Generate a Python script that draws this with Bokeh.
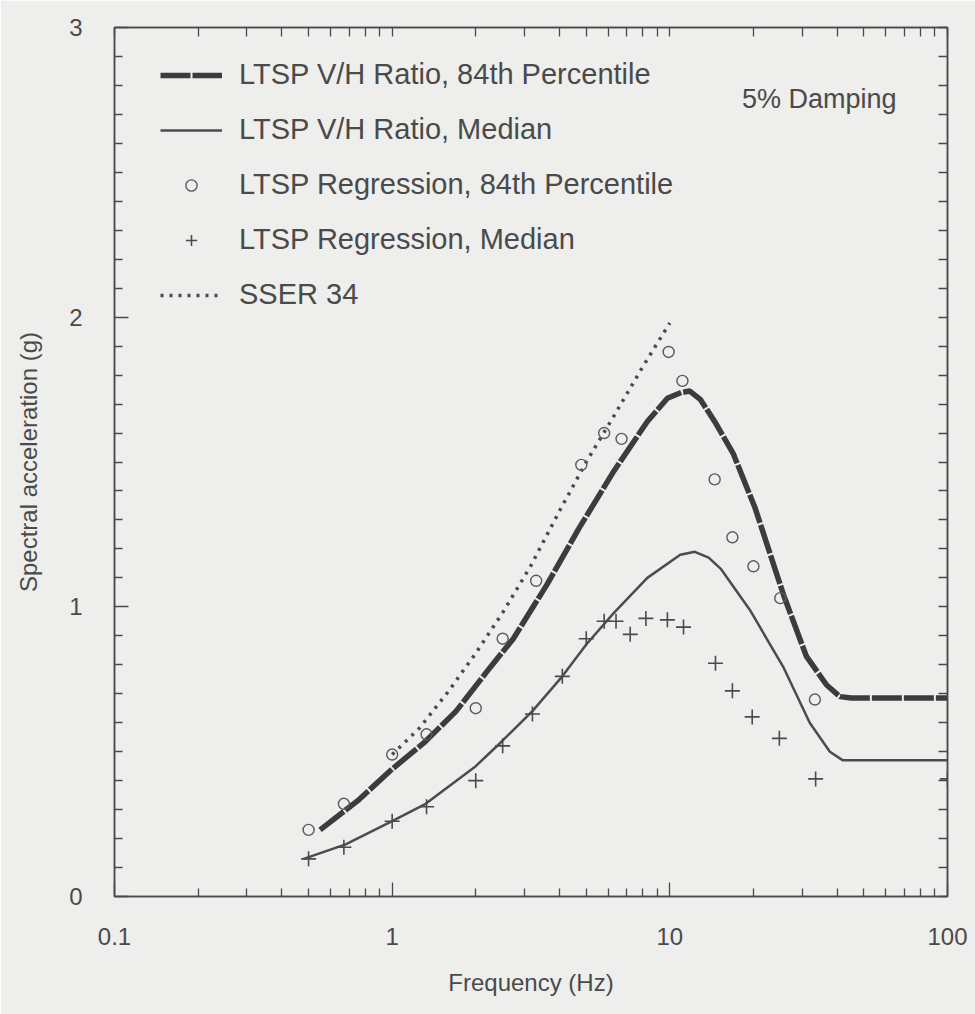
from bokeh.plotting import figure
from bokeh.models import (FixedTicker, LinearAxis, LogAxis, Legend, LegendItem, Label,
                          CustomJSTickFormatter)
from bokeh.embed import file_html
from bokeh.resources import INLINE

# ---- data ----
v84_f = [0.55, 0.75, 1.0, 1.3, 1.7, 2.25, 2.73, 3.6, 4.7, 6.3, 8.3, 9.8, 11.0, 11.8,
         12.9, 14.5, 16.9, 20.3, 25.7, 31.0, 36.7, 41.0, 45.0, 100.0]
v84_y = [0.23, 0.33, 0.44, 0.53, 0.64, 0.79, 0.89, 1.075, 1.27, 1.47, 1.64, 1.72, 1.74, 1.745,
         1.715, 1.64, 1.53, 1.34, 1.04, 0.83, 0.73, 0.69, 0.685, 0.685]

med_f = [0.48, 0.68, 1.0, 1.32, 2.0, 2.45, 3.2, 4.1, 5.0, 6.3, 8.3, 10.9, 12.3, 13.8,
         15.3, 19.4, 25.7, 31.9, 37.7, 42.0, 100.0]
med_y = [0.13, 0.18, 0.26, 0.32, 0.45, 0.53, 0.64, 0.76, 0.87, 0.98, 1.10, 1.18, 1.19, 1.17,
         1.13, 0.99, 0.79, 0.60, 0.50, 0.47, 0.47]

reg84_f = [0.5, 0.67, 1.0, 1.33, 2.0, 2.5, 3.3, 4.8, 5.8, 6.7, 9.9, 11.1, 14.5, 16.8, 20.0, 25.0, 33.3]
reg84_y = [0.23, 0.32, 0.49, 0.56, 0.65, 0.89, 1.09, 1.49, 1.60, 1.58, 1.88, 1.78, 1.44, 1.24, 1.14, 1.03, 0.68]

regmed_f = [0.5, 0.67, 1.0, 1.33, 2.0, 2.5, 3.2, 4.1, 5.0, 5.8, 6.4, 7.2, 8.2, 9.8, 11.2,
            14.6, 16.8, 19.8, 24.8, 33.5, 100.0]
regmed_y = [0.13, 0.17, 0.26, 0.31, 0.40, 0.52, 0.63, 0.76, 0.89, 0.95, 0.95, 0.905, 0.96, 0.955, 0.93,
            0.805, 0.71, 0.62, 0.546, 0.406, 0.406]

sser_f = [1.0, 1.25, 1.6, 2.0, 2.5, 3.15, 4.0, 5.0, 6.3, 8.0, 10.0]
sser_y = [0.49, 0.58, 0.71, 0.84, 0.98, 1.14, 1.33, 1.50, 1.66, 1.83, 1.98]

x_major = [0.1, 1, 10, 100]
y_major = [0, 1, 2, 3]

FONT = "Liberation Sans"
INK = "#4a4a4a"
BG = "#eeeeec"

p = figure(width=975, height=1014, x_axis_type="log", x_range=(0.1, 100), y_range=(0, 3),
           output_backend="svg", toolbar_location=None,
           min_border_left=114, min_border_right=28, min_border_top=27, min_border_bottom=118,
           background_fill_color=BG, border_fill_color=BG)
p.grid.visible = False
p.outline_line_color = INK
p.outline_line_width = 1.5

minor_x = [m * d for d in (0.1, 1, 10) for m in range(2, 10)]
minor_y = [round(i * 0.1, 1) for i in range(31) if i % 10 != 0]

# bottom / left axes
p.xaxis.ticker = FixedTicker(ticks=x_major, minor_ticks=minor_x)
p.xaxis.formatter = CustomJSTickFormatter(code="return String(tick)")
p.yaxis.ticker = FixedTicker(ticks=y_major, minor_ticks=minor_y)
for ax in (p.xaxis[0], p.yaxis[0]):
    ax.major_tick_in = 14
    ax.major_tick_out = 0
    ax.minor_tick_in = 8
    ax.minor_tick_out = 0
    ax.axis_line_color = INK
    ax.axis_line_width = 1.5
    ax.major_tick_line_color = INK
    ax.minor_tick_line_color = INK
    ax.major_tick_line_width = 1.3
    ax.minor_tick_line_width = 1.3
    ax.major_label_text_font = FONT
    ax.major_label_text_font_size = "24px"
    ax.major_label_text_color = INK
    ax.axis_label_text_font = FONT
    ax.axis_label_text_font_size = "24px"
    ax.axis_label_text_font_style = "normal"
    ax.axis_label_text_color = INK

p.xaxis.axis_label = "Frequency (Hz)"
p.yaxis.axis_label = "Spectral acceleration (g)"
p.xaxis.major_label_standoff = 31
p.xaxis.axis_label_standoff = 21
p.yaxis.major_label_standoff = 32
p.yaxis.axis_label_standoff = 24

# top / right axes: ticks only
top = LogAxis(ticker=FixedTicker(ticks=[], minor_ticks=minor_x + x_major))
right = LinearAxis(ticker=FixedTicker(ticks=[], minor_ticks=minor_y + y_major))
for ax in (top, right):
    ax.minor_tick_in = 9
    ax.minor_tick_out = 0
    ax.axis_line_color = INK
    ax.axis_line_width = 1.5
    ax.minor_tick_line_color = INK
    ax.minor_tick_line_width = 1.3
p.add_layout(top, "above")
p.add_layout(right, "right")

# ---- data glyphs ----
r84 = p.line(v84_f, v84_y, line_color="#3c3c3c", line_width=5.5, line_dash="30 2")
rmed = p.line(med_f, med_y, line_color="#4c4c4c", line_width=2.5)
rsser = p.line(sser_f, sser_y, line_color="#4a4a4a", line_width=3.5, line_dash="3 6")
rc = p.scatter(reg84_f, reg84_y, marker="circle", size=11, fill_color=None,
               line_color="#5a5a5a", line_width=1.4)
rx = p.scatter(regmed_f, regmed_y, marker="cross", size=15,
               line_color="#4a4a4a", line_width=1.6)

legend = Legend(items=[
    LegendItem(label="LTSP V/H Ratio, 84th Percentile", renderers=[r84]),
    LegendItem(label="LTSP V/H Ratio, Median", renderers=[rmed]),
    LegendItem(label="LTSP Regression, 84th Percentile", renderers=[rc]),
    LegendItem(label="LTSP Regression, Median", renderers=[rx]),
    LegendItem(label="SSER 34", renderers=[rsser]),
], location=(46, 585))
legend.glyph_width = 62
legend.glyph_height = 28
legend.label_height = 28
legend.spacing = 22
legend.padding = 0
legend.margin = 0
legend.label_standoff = 17
legend.label_text_font = FONT
legend.label_text_font_size = "29px"
legend.label_text_color = INK
legend.border_line_alpha = 0
legend.background_fill_alpha = 0
p.add_layout(legend, "center")

p.add_layout(Label(x=18.2, y=2.752, text="5% Damping", text_font=FONT, text_font_size="27px",
                   text_color=INK, text_baseline="middle"))

open("out.html", "w").write(file_html(p, INLINE))
